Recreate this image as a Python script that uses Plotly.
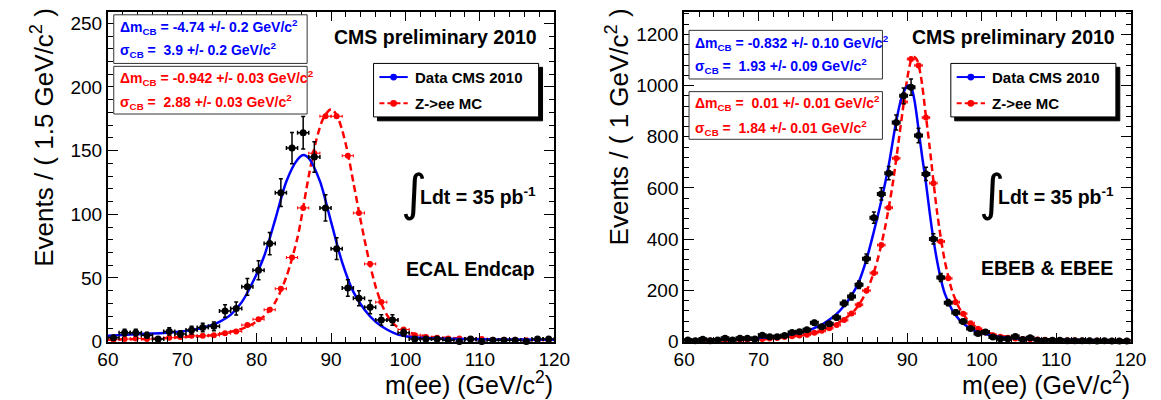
import numpy as np
import plotly.graph_objects as go

W, H = 1161, 400
FONT = "Liberation Sans, Arial, Helvetica, sans-serif"


def px(x):
    return x / W


def py(y):
    return 1 - y / H


# ---------------- Left panel: ECAL Endcap (1.5 GeV bins) ----------------
endcap_centres = np.arange(60.75, 120, 1.5)
endcap_data = [3, 7, 7, 5, 2, 8, 6, 9, 11, 12,
               24, 26, 43, 56, 77, 117, 152, 164, 145, 105,
               73, 42, 34, 27, 17, 17, 7, 2, 2, 2,
               1, 0, 2, 0, 1, 1, 1, 0, 2, 2]
endcap_mc = [1.5, 2, 2.5, 2, 2, 3, 3.5, 4.5, 4.5, 5,
             6.5, 8, 13, 17.5, 25, 41.5, 66, 105, 148, 177,
             177, 146, 101, 61, 31, 17, 9.5, 5, 3.5, 3,
             2.5, 2.5, 2, 2, 1.5, 1.5, 1.5, 1, 1, 1]
endcap_fit_m = [60, 62, 64, 66, 68, 70, 72, 73.5, 75, 76.5, 78, 79.5, 81, 82.5,
                84, 85.5, 86.3, 87, 88.5, 90, 91.5, 93, 94.5, 96, 97.5, 99,
                100.5, 102, 105, 110, 115, 120]
endcap_fit = [4.5, 5.2, 5.8, 6.3, 7, 8, 9.8, 12, 15.5, 21, 31, 47, 67, 96,
              126, 143, 146.5, 144, 126, 94, 62, 39, 25, 15.5, 9.5, 5.5,
              3.8, 3, 2.3, 1.8, 1.6, 1.5]
endcap_mcfit_m = [60, 65, 70, 74, 76, 78, 79.5, 81, 82.5, 84, 85.5, 87, 88, 89,
                  90, 90.75, 91.5, 92.25, 93, 93.75, 94.5, 95.25, 96, 96.75,
                  97.5, 98.25, 99, 100, 101.5, 103, 105, 110, 120]
endcap_mcfit = [1.5, 2, 3.5, 5, 7, 10, 14, 20, 31, 51, 82, 130, 158, 176,
                182.5, 178, 166, 148, 125, 102, 80, 60, 43, 30,
                21, 15, 11, 8, 5.5, 4, 3, 2, 1.2]

# ---------------- Right panel: EBEB & EBEE (1 GeV bins) ----------------
barrel_centres = np.arange(60.5, 120, 1.0)
barrel_data = [6, 3, 9, 3, 6, 13, 6, 13, 13, 10,
               25, 19, 19, 24, 35, 38, 46, 74, 58, 70,
               94, 149, 176, 222, 324, 484, 577, 658, 856, 960,
               994, 805, 655, 401, 250, 152, 114, 78, 51, 32,
               37, 18, 11, 11, 20, 8, 15, 5, 4, 5,
               5, 3, 3, 3, 3, 2, 3, 2, 2, 2]
barrel_mc = [3, 3, 4, 4, 5, 5, 6, 7, 8, 9,
             10, 12, 14, 18, 21, 24, 27, 34, 42, 52,
             65, 84, 110, 144, 199, 268, 377, 523, 716, 936,
             1104, 1079, 875, 619, 391, 247, 154, 109, 72, 50,
             35, 25, 19, 15, 12, 10, 9, 8, 7, 6,
             6, 5, 5, 4, 4, 4, 3, 3, 3, 3]
barrel_fit_m = [60, 65, 70, 72, 74, 75.5, 76.5, 77.5, 78.5, 79.5, 80.5, 81.5,
                82.5, 83.5, 84.5, 85.5, 86.5, 87.5, 88.5, 89.3, 90.1, 90.6,
                91, 91.5, 92, 92.5, 93, 93.5, 94, 94.5, 95, 96, 97, 98, 99,
                100, 102, 105, 110, 115, 120]
barrel_fit = [5, 8, 14, 19, 27, 36, 42, 53, 66, 85, 108, 140,
              180, 235, 320, 430, 550, 690, 860, 960, 1000, 985,
              935, 830, 720, 620, 505, 400, 315, 245, 190, 125, 85, 60, 43,
              33, 20, 12, 8, 6, 5]
barrel_mcfit_m = [60, 70, 74, 76, 78, 80, 81, 82, 83, 84, 85, 86, 87, 88, 89,
                  89.5, 90, 90.5, 90.9, 91.3, 91.8, 92.5, 93, 94, 95, 96, 97,
                  98, 99, 100, 102, 105, 110, 120]
barrel_mcfit = [2, 8, 20, 27, 38, 60, 78, 98, 125, 168, 230, 320, 445, 610, 820,
                930, 1030, 1098, 1112, 1100, 1040, 880, 760, 505, 320, 200, 130,
                88, 62, 45, 25, 14, 7, 3]

fig = go.Figure()


def add_panel(xa, ya, centres, half, data, mc, fm, fv, mm, mv):
    fig.add_trace(go.Scatter(
        x=centres, y=mc, mode="markers", xaxis=xa, yaxis=ya,
        marker=dict(color="#ff0000", size=6),
        error_x=dict(type="constant", value=half, color="#ff0000",
                     thickness=1, width=1.5),
        cliponaxis=False, showlegend=False, hoverinfo="skip"))
    fig.add_trace(go.Scatter(
        x=mm, y=mv, mode="lines", xaxis=xa, yaxis=ya,
        line=dict(color="#ff0000", width=2.5, dash="7px,4px",
                  shape="spline", smoothing=0.8),
        showlegend=False, hoverinfo="skip"))
    fig.add_trace(go.Scatter(
        x=fm, y=fv, mode="lines", xaxis=xa, yaxis=ya,
        line=dict(color="#0000ff", width=2.5, shape="spline", smoothing=0.8),
        showlegend=False, hoverinfo="skip"))
    fig.add_trace(go.Scatter(
        x=centres, y=data, mode="markers", xaxis=xa, yaxis=ya,
        marker=dict(color="black", size=7),
        error_x=dict(type="constant", value=half, color="black",
                     thickness=1.5, width=2),
        error_y=dict(type="data", array=np.sqrt(np.array(data, dtype=float)),
                     color="black", thickness=1.5, width=2),
        cliponaxis=False, showlegend=False, hoverinfo="skip"))


add_panel("x", "y", endcap_centres, 0.75, endcap_data, endcap_mc,
          endcap_fit_m, endcap_fit, endcap_mcfit_m, endcap_mcfit)
add_panel("x2", "y2", barrel_centres, 0.5, barrel_data, barrel_mc,
          barrel_fit_m, barrel_fit, barrel_mcfit_m, barrel_mcfit)


def axis(**kw):
    d = dict(showline=True, linecolor="black", linewidth=1.8, mirror="ticks",
             ticks="inside", tickcolor="black", tickwidth=1, showgrid=False,
             zeroline=False,
             tickfont=dict(family=FONT, size=19, color="black"))
    d.update(kw)
    return d


minor_x = dict(dtick=2, ticklen=5, ticks="inside", tickcolor="black",
               tickwidth=1, showgrid=False)

fig.update_layout(
    width=W, height=H,
    margin=dict(l=0, r=0, t=0, b=0),
    paper_bgcolor="white", plot_bgcolor="white",
    showlegend=False,
    xaxis=axis(domain=[px(91), px(548)], range=[60, 120], tick0=60, dtick=10,
               ticklen=9, minor=minor_x, anchor="y"),
    yaxis=axis(domain=[py(343), py(4)], range=[0, 259], tick0=0, dtick=50,
               ticklen=10, anchor="x",
               minor=dict(dtick=10, ticklen=5, ticks="inside",
                          tickcolor="black", tickwidth=1, showgrid=False)),
    xaxis2=axis(domain=[px(681), px(1138)], range=[60, 120], tick0=60,
                dtick=10, ticklen=9, minor=minor_x, anchor="y2"),
    yaxis2=axis(domain=[py(343), py(4)], range=[0, 1288], tick0=0, dtick=200,
                ticklen=10, anchor="x2",
                minor=dict(dtick=40, ticklen=5, ticks="inside",
                           tickcolor="black", tickwidth=1, showgrid=False)),
)


def rect(x0, y0, x1, y1, fill="white", line="#333333", lw=1):
    fig.add_shape(type="rect", xref="paper", yref="paper",
                  x0=px(x0), x1=px(x1), y0=py(y1), y1=py(y0),
                  fillcolor=fill, line=dict(color=line, width=lw), layer="above")


def ann(text, x, y, size, color="black", xanchor="left", yanchor="middle",
        bold=True, angle=0, family=FONT):
    fig.add_annotation(text=f"<b>{text}</b>" if bold else text,
                       x=px(x), y=py(y), xref="paper", yref="paper",
                       showarrow=False, xanchor=xanchor, yanchor=yanchor,
                       textangle=angle, borderpad=0,
                       font=dict(size=size, color=color, family=family))


NB = "\u00a0"
BLUE = "#0000ff"
RED = "#ff0000"

# ---- fit-result boxes ----
boxes = [
    # left panel
    (97, 7, 295, 57, BLUE, 102, 20, 43,
     "Δm<sub>CB</sub> = -4.74 +/- 0.2 GeV/c<sup>2</sup>",
     f"σ<sub>CB</sub> = {NB}3.9 +/- 0.2 GeV/c<sup>2</sup>"),
    (97, 60, 295, 109, RED, 102, 72, 97,
     "Δm<sub>CB</sub> = -0.942 +/- 0.03 GeV/c<sup>2</sup>",
     f"σ<sub>CB</sub> = {NB}2.88 +/- 0.03 GeV/c<sup>2</sup>"),
    # right panel
    (686, 23, 884, 73, BLUE, 691, 36, 60,
     "Δm<sub>CB</sub> = -0.832 +/- 0.10 GeV/c<sup>2</sup>",
     f"σ<sub>CB</sub> = {NB}1.93 +/- 0.09 GeV/c<sup>2</sup>"),
    (686, 86, 884, 135, RED, 691, 98, 123,
     f"Δm<sub>CB</sub> = {NB}0.01 +/- 0.01 GeV/c<sup>2</sup>",
     f"σ<sub>CB</sub> = {NB}1.84 +/- 0.01 GeV/c<sup>2</sup>"),
]
for (x0, y0, x1, y1, col, tx, ty1, ty2, t1, t2) in boxes:
    rect(x0, y0, x1, y1)
    ann(t1, tx, ty1, 14, col)
    ann(t2, tx, ty2, 14, col)

# ---- legends (manual, with shadow) ----
for (bx, by) in [(363, 57), (954, 57)]:
    rect(bx + 4, by + 4, bx + 173, by + 59, fill="black", line="black")
    rect(bx, by, bx + 169, by + 55, fill="white", line="black")
    ly1, ly2 = by + 14, by + 41
    fig.add_shape(type="line", xref="paper", yref="paper",
                  x0=px(bx + 6), x1=px(bx + 35), y0=py(ly1), y1=py(ly1),
                  line=dict(color=BLUE, width=2), layer="above")
    fig.add_shape(type="line", xref="paper", yref="paper",
                  x0=px(bx + 6), x1=px(bx + 35), y0=py(ly2), y1=py(ly2),
                  line=dict(color=RED, width=2, dash="5px,3px"), layer="above")
    for (ly, c) in [(ly1, BLUE), (ly2, RED)]:
        fig.add_shape(type="circle", xref="paper", yref="paper",
                      x0=px(bx + 17), x1=px(bx + 24), y0=py(ly + 3.5),
                      y1=py(ly - 3.5), fillcolor=c, line=dict(color=c, width=0),
                      layer="above")
    ann("Data CMS 2010", bx + 41, ly1, 15)
    ann("Z-&gt;ee MC", bx + 41, ly2, 15)

# ---- panel texts ----
for (xr, cap, label_y) in [(531, "ECAL Endcap", 268), (1123, "EBEB &amp; EBEE", 267)]:
    ann("CMS preliminary 2010", xr, 30, 19.5, xanchor="right")
    ann("Ldt = 35 pb<sup>-1</sup>", xr - 1, 193, 19.5, xanchor="right")
    ann(cap, xr - 2, label_y, 19.5, xanchor="right")

ann("∫", 404, 190, 50, bold=False, xanchor="center", family="DejaVu Sans")
ann("∫", 996, 190, 50, bold=False, xanchor="center", family="DejaVu Sans")

# ---- axis titles ----
ann("Events / ( 1.5 GeV/c<sup>2</sup> )", 24, 133, 26, bold=False,
    xanchor="center", angle=-90)
ann("Events / ( 1 GeV/c<sup>2</sup> )", 613, 122, 26, bold=False,
    xanchor="center", angle=-90)
ann("m(ee) (GeV/c<sup>2</sup>)", 548, 386, 25, bold=False, xanchor="right")
ann("m(ee) (GeV/c<sup>2</sup>)", 1138, 386, 25, bold=False, xanchor="right")

fig.write_html("out.html")
